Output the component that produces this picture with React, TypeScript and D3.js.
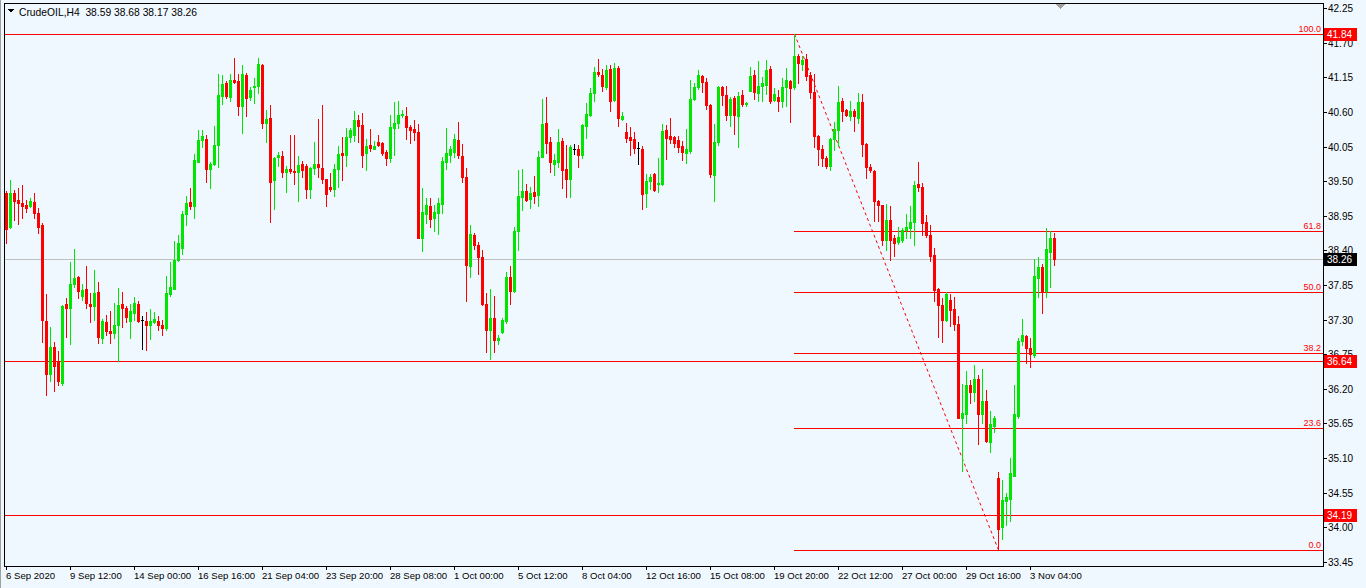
import React from 'react';
import * as d3 from 'd3';

const symbol = 'CrudeOIL,H4';
const lastQuote = [38.59, 38.68, 38.17, 38.26];

// [open, high, low, close] per H4 bar
const candles: [number, number, number, number][] = [
  [39.32, 39.35, 38.52, 38.74], [38.77, 39.52, 38.75, 39.32], [39.31, 39.36, 38.88, 39.19], [39.20, 39.39, 38.82, 39.15],
  [39.15, 39.44, 38.91, 39.11], [39.12, 39.20, 39.01, 39.07], [39.10, 39.23, 39.09, 39.18], [39.17, 39.31, 38.91, 39.00],
  [39.00, 39.07, 38.67, 38.78], [38.80, 38.84, 36.94, 37.29], [37.28, 37.71, 36.11, 36.43], [36.43, 37.19, 36.33, 36.86],
  [36.86, 36.95, 36.16, 36.57], [36.64, 36.80, 36.26, 36.32], [36.30, 37.53, 36.26, 37.52], [37.55, 37.64, 37.03, 37.48],
  [37.48, 38.21, 36.91, 37.87], [37.87, 38.42, 37.82, 37.96], [37.98, 37.99, 37.64, 37.75], [37.68, 37.87, 37.61, 37.77],
  [37.79, 38.15, 37.48, 37.57], [37.55, 37.72, 37.27, 37.51], [37.51, 38.09, 37.30, 37.72], [37.74, 37.90, 36.93, 37.03],
  [37.01, 37.31, 36.93, 37.28], [37.26, 37.37, 37.06, 37.12], [37.12, 37.44, 36.93, 37.08], [37.09, 37.57, 37.01, 37.22],
  [37.22, 37.80, 36.65, 37.53], [37.55, 37.74, 37.19, 37.48], [37.48, 37.52, 37.27, 37.35], [37.28, 37.55, 37.01, 37.44],
  [37.41, 37.66, 37.30, 37.56], [37.55, 37.60, 37.27, 37.28], [37.29, 37.36, 36.84, 37.29], [37.28, 37.42, 36.81, 37.21],
  [37.21, 37.47, 37.00, 37.28], [37.27, 37.42, 37.24, 37.31], [37.28, 37.36, 37.13, 37.22], [37.22, 37.30, 37.05, 37.17],
  [37.16, 37.99, 37.13, 37.72], [37.70, 38.22, 37.68, 37.82], [37.79, 38.55, 37.78, 38.25], [38.25, 38.65, 38.24, 38.52],
  [38.44, 39.02, 38.35, 38.98], [38.98, 39.27, 38.80, 39.15], [39.17, 39.39, 39.06, 39.11], [39.11, 39.93, 38.92, 39.84],
  [39.81, 40.31, 39.81, 40.16], [40.16, 40.31, 40.05, 40.22], [40.17, 40.24, 39.49, 39.69], [39.69, 39.81, 39.40, 39.78],
  [39.77, 40.38, 39.76, 40.08], [40.08, 41.20, 39.73, 40.87], [40.86, 41.19, 40.73, 41.05], [41.06, 41.09, 40.83, 40.86],
  [40.84, 41.20, 40.77, 41.11], [41.11, 41.46, 41.06, 41.08], [41.09, 41.20, 40.55, 40.69], [40.70, 41.35, 40.27, 41.20],
  [41.19, 41.22, 40.54, 40.83], [40.84, 40.99, 40.79, 40.95], [40.99, 41.14, 40.75, 41.02], [41.02, 41.46, 40.91, 41.36],
  [41.35, 41.37, 40.35, 40.43], [40.42, 40.63, 40.13, 40.49], [40.50, 40.71, 38.86, 39.49], [39.52, 39.89, 39.06, 39.87],
  [39.88, 39.97, 39.74, 39.92], [39.90, 39.98, 39.57, 39.65], [39.65, 39.74, 39.33, 39.69], [39.69, 40.24, 39.63, 39.67],
  [39.67, 40.24, 39.46, 39.64], [39.65, 39.90, 39.18, 39.76], [39.77, 39.82, 39.56, 39.68], [39.74, 39.78, 39.24, 39.38],
  [39.37, 39.72, 39.24, 39.71], [39.71, 40.12, 39.62, 39.77], [39.77, 40.49, 39.57, 39.73], [39.71, 40.71, 39.47, 39.54],
  [39.53, 39.54, 39.11, 39.30], [39.41, 39.63, 39.35, 39.38], [39.38, 39.78, 39.27, 39.69], [39.69, 40.06, 39.41, 39.93],
  [39.95, 40.20, 39.52, 39.92], [39.92, 40.35, 39.75, 40.20], [40.20, 40.35, 40.13, 40.31], [40.24, 40.62, 40.14, 40.47],
  [40.47, 40.55, 40.13, 40.38], [40.39, 40.58, 39.72, 39.92], [39.95, 40.17, 39.68, 40.06], [40.08, 40.33, 39.98, 40.03],
  [40.01, 40.14, 40.01, 40.06], [40.12, 40.24, 40.06, 40.08], [40.11, 40.13, 39.92, 39.95], [39.97, 40.00, 39.76, 39.87],
  [39.87, 40.55, 39.81, 40.36], [40.35, 40.76, 39.92, 40.43], [40.43, 40.78, 40.35, 40.55], [40.55, 40.63, 40.52, 40.57],
  [40.54, 40.68, 40.17, 40.36], [40.36, 40.39, 40.11, 40.31], [40.33, 40.47, 40.16, 40.28], [40.28, 40.41, 38.59, 38.60],
  [38.60, 39.39, 38.39, 39.01], [38.98, 39.23, 38.84, 39.12], [39.11, 39.23, 38.77, 38.90], [38.92, 39.12, 38.71, 39.01],
  [38.99, 39.23, 38.66, 39.15], [39.14, 39.88, 38.99, 39.82], [39.81, 40.35, 39.69, 39.95], [39.92, 40.06, 39.81, 40.01],
  [39.96, 40.25, 39.89, 40.17], [40.16, 40.44, 39.87, 39.91], [39.90, 40.09, 39.49, 39.56], [39.56, 39.71, 37.60, 38.17],
  [38.16, 38.80, 37.97, 38.66], [38.65, 38.68, 38.43, 38.48], [38.48, 38.53, 38.02, 38.29], [38.29, 38.41, 37.54, 37.55],
  [37.55, 37.72, 36.78, 37.14], [37.13, 37.79, 36.67, 37.33], [37.33, 37.68, 36.79, 36.97], [36.97, 37.06, 36.92, 37.01],
  [37.11, 37.33, 37.08, 37.30], [37.28, 38.05, 37.24, 37.98], [37.98, 38.15, 37.55, 37.75], [37.75, 38.77, 37.74, 38.71],
  [38.71, 39.68, 38.41, 39.27], [39.25, 39.69, 39.04, 39.35], [39.35, 39.46, 39.18, 39.20], [39.22, 39.41, 39.08, 39.31],
  [39.33, 39.58, 39.16, 39.27], [39.28, 39.98, 39.10, 39.89], [39.89, 40.81, 39.88, 40.41], [40.43, 40.84, 39.95, 40.10],
  [40.12, 40.20, 39.65, 39.80], [39.78, 39.93, 39.60, 39.84], [39.81, 40.33, 39.73, 40.12], [40.14, 40.19, 39.40, 39.68],
  [39.69, 40.08, 39.25, 39.54], [39.54, 40.08, 39.25, 40.05], [40.01, 40.09, 39.94, 40.01], [40.01, 40.08, 39.73, 39.91],
  [39.92, 40.41, 39.87, 40.40], [40.38, 40.75, 40.19, 40.57], [40.55, 40.98, 40.54, 40.91], [40.91, 41.32, 40.78, 41.23],
  [41.24, 41.44, 41.18, 41.21], [41.19, 41.28, 40.93, 41.02], [40.99, 41.35, 40.96, 41.27], [41.28, 41.35, 40.62, 40.78],
  [40.79, 41.38, 40.78, 41.30], [41.30, 41.33, 40.37, 40.51], [40.49, 40.60, 40.47, 40.54], [40.28, 40.43, 40.13, 40.19],
  [40.20, 40.36, 39.91, 40.16], [40.17, 40.28, 39.95, 40.03], [40.03, 40.12, 39.77, 40.03], [40.01, 40.06, 39.06, 39.30],
  [39.31, 39.61, 39.09, 39.50], [39.50, 39.61, 39.38, 39.57], [39.61, 39.63, 39.35, 39.36], [39.45, 39.87, 39.33, 39.47],
  [39.46, 40.41, 39.44, 40.30], [40.31, 40.39, 39.85, 40.19], [40.22, 40.51, 40.11, 40.17], [40.20, 40.22, 40.04, 40.11],
  [40.16, 40.22, 39.96, 40.04], [40.06, 40.14, 39.84, 39.96], [39.95, 40.33, 39.79, 40.01], [39.98, 41.11, 39.95, 40.81],
  [40.80, 41.06, 40.79, 41.00], [41.00, 41.27, 40.97, 41.19], [41.18, 41.19, 40.92, 41.08], [41.08, 41.14, 40.65, 40.71],
  [40.71, 40.72, 39.57, 39.61], [39.60, 40.41, 39.19, 40.12], [40.12, 41.01, 40.08, 41.00], [41.00, 41.01, 40.71, 40.87],
  [40.87, 41.01, 40.47, 40.55], [40.55, 40.84, 40.38, 40.81], [40.82, 40.86, 40.25, 40.55], [40.54, 40.92, 40.05, 40.85],
  [40.87, 40.95, 40.70, 40.73], [40.72, 40.76, 40.70, 40.74], [40.94, 41.32, 40.93, 41.17], [41.19, 41.27, 40.81, 40.92],
  [40.90, 41.41, 40.78, 41.01], [41.01, 41.16, 40.78, 41.06], [41.03, 41.43, 40.89, 41.27], [41.28, 41.33, 40.74, 40.78],
  [40.79, 40.98, 40.78, 40.89], [40.84, 40.95, 40.62, 40.78], [40.77, 41.14, 40.68, 41.00], [40.99, 41.30, 40.70, 41.11],
  [41.09, 41.11, 40.44, 40.98], [41.00, 41.84, 40.97, 41.49], [41.49, 41.52, 41.06, 41.38], [41.36, 41.49, 41.27, 41.43],
  [41.44, 41.52, 41.11, 41.17], [41.19, 41.24, 40.82, 40.92], [40.92, 41.20, 40.04, 40.22], [40.22, 40.23, 39.76, 40.01],
  [40.01, 40.08, 39.74, 39.87], [39.87, 39.90, 39.71, 39.74], [39.74, 40.19, 39.68, 40.17], [40.17, 40.44, 39.99, 40.33],
  [40.31, 41.01, 40.06, 40.76], [40.77, 40.82, 40.46, 40.62], [40.63, 40.65, 40.54, 40.55], [40.53, 40.78, 40.47, 40.62],
  [40.62, 40.65, 40.30, 40.54], [40.51, 40.90, 40.43, 40.76], [40.76, 40.89, 39.90, 40.09], [40.09, 40.10, 39.55, 39.73],
  [39.73, 39.77, 39.65, 39.68], [39.66, 39.68, 38.87, 39.19], [39.19, 39.20, 38.87, 39.12], [39.12, 39.13, 38.49, 38.57],
  [38.57, 39.14, 38.41, 38.88], [38.88, 39.11, 38.25, 38.57], [38.60, 38.65, 38.31, 38.52], [38.53, 38.77, 38.50, 38.61],
  [38.57, 38.76, 38.54, 38.72], [38.73, 38.98, 38.59, 38.77], [38.76, 39.11, 38.60, 38.85], [38.85, 39.50, 38.49, 39.44],
  [39.46, 39.81, 39.35, 39.41], [39.41, 39.47, 38.65, 38.83], [38.85, 38.96, 38.61, 38.65], [38.65, 38.80, 38.23, 38.31],
  [38.33, 38.44, 37.60, 37.77], [37.79, 37.80, 37.02, 37.53], [37.53, 37.64, 36.95, 37.30], [37.30, 37.74, 37.28, 37.71],
  [37.61, 37.71, 37.20, 37.45], [37.47, 37.66, 37.14, 37.23], [37.23, 37.36, 35.73, 35.74], [35.74, 36.28, 34.90, 35.82],
  [35.80, 36.48, 35.66, 36.26], [36.26, 36.34, 35.98, 36.15], [36.15, 36.58, 36.01, 36.36], [36.36, 36.42, 35.32, 35.80],
  [35.80, 36.52, 35.66, 36.01], [36.01, 36.18, 35.36, 35.37], [35.36, 35.85, 35.20, 35.64], [35.61, 35.77, 35.52, 35.74],
  [34.78, 34.88, 33.64, 33.97], [34.01, 34.75, 33.81, 34.43], [34.42, 34.55, 34.04, 34.48], [34.45, 35.10, 34.10, 34.86],
  [34.82, 36.26, 34.82, 35.80], [35.77, 37.01, 35.74, 36.96], [36.96, 37.31, 36.90, 37.06], [37.04, 37.06, 36.61, 36.85],
  [36.85, 37.01, 36.55, 36.75], [36.74, 38.26, 36.71, 37.99], [37.96, 38.30, 37.66, 38.14], [38.14, 38.19, 37.41, 37.76],
  [37.76, 38.76, 37.66, 38.42], [38.38, 38.71, 37.82, 38.60], [38.59, 38.68, 38.17, 38.26],
];

const timeLabels = [
  '6 Sep 2020', '9 Sep 12:00', '14 Sep 00:00', '16 Sep 16:00', '21 Sep 04:00', '23 Sep 20:00',
  '28 Sep 08:00', '1 Oct 00:00', '5 Oct 12:00', '8 Oct 04:00', '12 Oct 16:00', '15 Oct 08:00',
  '19 Oct 20:00', '22 Oct 12:00', '27 Oct 00:00', '29 Oct 16:00', '3 Nov 04:00',
];
const barsPerTimeLabel = 16;

const priceTicks = [42.25, 41.70, 41.15, 40.60, 40.05, 39.50, 38.95, 38.40, 37.85, 37.30, 36.75, 36.20, 35.65, 35.10, 34.55, 34.00, 33.45];

const horizontalLines = [41.84, 36.64, 34.19];
const bidPrice = 38.26;

const fibLevels = [0.0, 23.6, 38.2, 50.0, 61.8, 100.0];
const fibHigh = 41.84;
const fibLow = 33.64;
const fibHighBar = 197;
const fibLowBar = 248;

const W = 1366;
const H = 588;
const plotLeft = 4;
const plotRight = 1323;
const plotTop = 3;
const plotBottom = 566;
const FONT = '"Liberation Sans", Arial, sans-serif';

export default function App() {
  const n = candles.length;
  const x = d3.scaleLinear().domain([0, n - 1]).range([6, 6 + 4 * (n - 1)]);
  const y = d3.scaleLinear().domain([33.45, 42.25]).range([561.9, 8.2]);
  const py = (p: number) => Math.round(y(p));

  const UP = '#00e600';
  const DOWN = '#ff0000';
  const RED = '#ff0000';

  const fibY = (lvl: number) => py(fibLow + (fibHigh - fibLow) * lvl / 100);

  return (
    <div style={{ position: 'absolute', left: 0, top: 0, width: W, height: H }}>
      <svg width={W} height={H} style={{ display: 'block' }} shapeRendering="crispEdges">
        <rect x={0} y={0} width={W} height={H} fill="#f0f8ff" />
        <rect x={0} y={0} width={1} height={H} fill="#a0a0a0" />

        {/* horizontal lines */}
        {horizontalLines.map((p, i) => (
          <line key={'h' + i} x1={plotLeft} x2={plotRight} y1={py(p) + 0.5} y2={py(p) + 0.5} stroke={RED} strokeWidth={1} />
        ))}
        {/* bid line */}
        <line x1={plotLeft} x2={plotRight} y1={py(bidPrice) + 0.5} y2={py(bidPrice) + 0.5} stroke="#c0c0c0" strokeWidth={1} />

        {/* fibonacci levels */}
        {fibLevels.map((lvl, i) => (
          <g key={'f' + i}>
            <line x1={Math.round(x(fibHighBar))} x2={plotRight} y1={fibY(lvl) + 0.5} y2={fibY(lvl) + 0.5} stroke={RED} strokeWidth={1} />
            <text x={plotRight - 2} y={fibY(lvl) - 2} textAnchor="end" fontFamily={FONT} fontSize={9} fill={RED}>
              {lvl.toFixed(1)}
            </text>
          </g>
        ))}
        <line
          x1={Math.round(x(fibHighBar)) + 0.5}
          y1={py(fibHigh)}
          x2={Math.round(x(fibLowBar)) + 0.5}
          y2={py(fibLow)}
          stroke={RED}
          strokeWidth={1}
          strokeDasharray="3,3"
          shapeRendering="auto"
        />

        {/* candles */}
        {candles.map(([o, h, l, c], i) => {
          const cx = Math.round(x(i));
          const doji = o === c;
          const col = doji ? '#000000' : c > o ? UP : DOWN;
          const top = py(Math.max(o, c));
          const bot = py(Math.min(o, c));
          const yh = py(h);
          const yl = py(l);
          return (
            <g key={'c' + i}>
              <rect x={cx} y={yh} width={1} height={Math.max(1, yl - yh + 1)} fill={col} />
              <rect x={cx - 1} y={top} width={3} height={Math.max(1, bot - top + 1)} fill={col} />
            </g>
          );
        })}

        {/* frame */}
        <rect x={plotLeft + 0.5} y={plotTop + 0.5} width={plotRight - plotLeft} height={plotBottom - plotTop} fill="none" stroke="#000" strokeWidth={1} />

        {/* chart shift marker */}
        <polygon points="1055,4 1065,4 1060,9" fill="#a0a0a0" />

        {/* title */}
        <polygon points="8,9 14,9 11,13" fill="#000" />
        <text x={19} y={16} fontFamily={FONT} fontSize={10.3} fill="#000" xmlSpace="preserve">
          {symbol + '  ' + lastQuote.map((v) => v.toFixed(2)).join(' ')}
        </text>

        {/* price axis */}
        {priceTicks.map((p, i) => (
          <g key={'p' + i}>
            <line x1={plotRight} x2={plotRight + 4} y1={py(p) + 0.5} y2={py(p) + 0.5} stroke="#000" />
            <text x={plotRight + 5} y={py(p) + 4} fontFamily={FONT} fontSize={10} fill="#000">
              {p.toFixed(2)}
            </text>
          </g>
        ))}
        {horizontalLines.map((p, i) => (
          <g key={'hl' + i}>
            <rect x={plotRight + 1} y={py(p) - 6} width={33} height={13} fill={RED} />
            <text x={plotRight + 4} y={py(p) + 4} fontFamily={FONT} fontSize={10} fill="#fff">
              {p.toFixed(2)}
            </text>
          </g>
        ))}
        <g>
          <rect x={plotRight + 1} y={py(bidPrice) - 6} width={33} height={13} fill="#000" />
          <text x={plotRight + 4} y={py(bidPrice) + 4} fontFamily={FONT} fontSize={10} fill="#fff">
            {bidPrice.toFixed(2)}
          </text>
        </g>

        {/* time axis */}
        {timeLabels.map((t, i) => {
          const tx = Math.round(x(i * barsPerTimeLabel));
          return (
            <g key={'t' + i}>
              <line x1={tx + 0.5} x2={tx + 0.5} y1={plotBottom} y2={plotBottom + 4} stroke="#000" />
              <text x={tx} y={plotBottom + 13} fontFamily={FONT} fontSize={9.6} fill="#000">
                {t}
              </text>
            </g>
          );
        })}
      </svg>
    </div>
  );
}
